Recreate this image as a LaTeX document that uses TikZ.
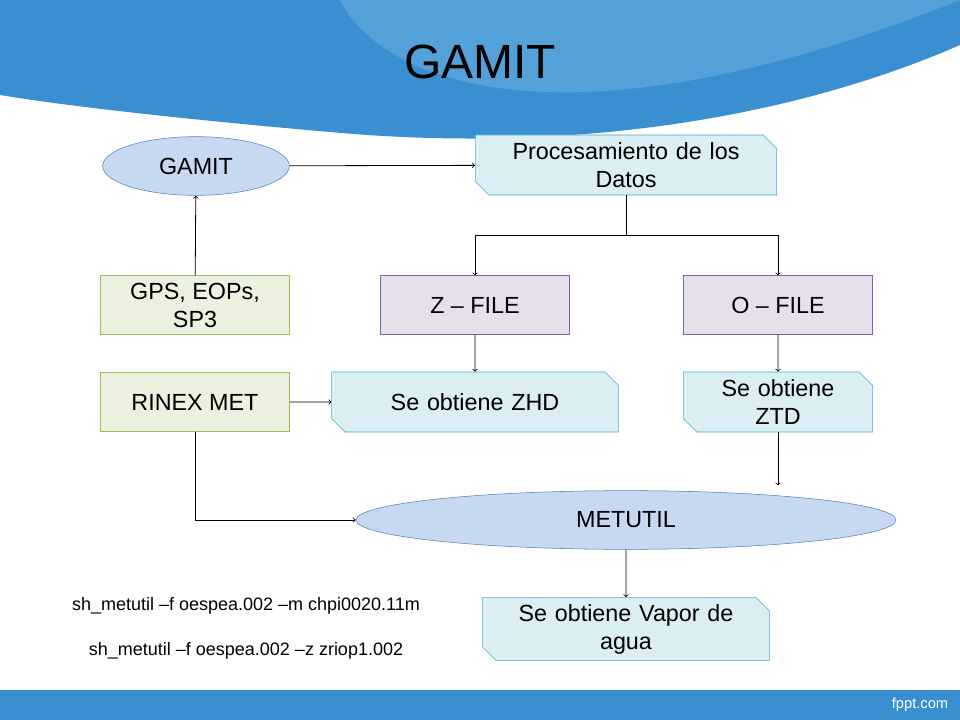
\documentclass[tikz,border=0pt]{standalone}
\usepackage{fontspec}
\setmainfont{Liberation Sans}
\usetikzlibrary{shapes.geometric, shapes.misc, arrows, positioning, calc}
\definecolor{slideblue}{HTML}{3A8FD0}
\definecolor{lightwave}{HTML}{6FB3E3}
\definecolor{ellfill}{HTML}{C6D9F1}
\definecolor{elldraw}{HTML}{4F81BD}
\definecolor{grnfill}{HTML}{EBF1DE}
\definecolor{grndraw}{HTML}{9BBB59}
\definecolor{purfill}{HTML}{E5E0EC}
\definecolor{purdraw}{HTML}{8064A2}
\definecolor{cyfill}{HTML}{DAEEF3}
\definecolor{cydraw}{HTML}{4BACC6}
\tikzstyle{arrow} = [->,>=to, line width=0.6pt]

\begin{document}
\begin{tikzpicture}[x=0.75pt, y=-0.75pt,
    oval/.style={ellipse, draw=elldraw, fill=ellfill, font=\fontsize{17.5}{21}\selectfont},
    plain/.style={rectangle, minimum width=142pt, minimum height=44pt, align=center, font=\fontsize{17.5}{21}\selectfont},
    snip/.style={chamfered rectangle, chamfered rectangle corners={north east,south west}, chamfered rectangle xsep=5pt, chamfered rectangle ysep=5pt, inner sep=0pt, draw=cydraw, fill=cyfill, minimum height=45pt, align=center, font=\fontsize{17.5}{21}\selectfont},
    cmd/.style={font=\fontsize{13.5}{16}\selectfont}]
    \useasboundingbox (0,0) rectangle (960,720);

    % Background
    \fill[white] (0,0) rectangle (960,720);
    \fill[slideblue] (0,0) -- (960,0) -- (960,45) .. controls (800,115) and (580,155) .. (330,132) .. controls (170,118) and (60,105) .. (0,95) -- cycle;
    \fill[lightwave, opacity=0.5] (340,0) .. controls (380,80) and (560,160) .. (960,0) -- cycle;
    \fill[slideblue] (0,690) rectangle (960,720);
    \node[font=\fontsize{36}{40}\selectfont] (title) at (480,62) {GAMIT};
    \node[font=\fontsize{11}{13}\selectfont, white] (fppt) at (920,705) {fppt.com};

    % Nodes
    \node[oval, minimum width=140pt, minimum height=44pt] (gamit) at (196,166) {GAMIT};
    \node[snip, text width=216pt] (proc) at (626,165) {Procesamiento de los\\Datos};
    \node[plain, draw=grndraw, fill=grnfill] (gps) at (195,305) {GPS, EOPs,\\SP3};
    \node[plain, draw=purdraw, fill=purfill] (zfile) at (475,305) {Z -- FILE};
    \node[plain, draw=purdraw, fill=purfill] (ofile) at (778,305) {O -- FILE};
    \node[plain, draw=grndraw, fill=grnfill] (rinex) at (195,402) {RINEX MET};
    \node[snip, text width=205pt] (zhd) at (475,402) {Se obtiene ZHD};
    \node[snip, text width=132pt] (ztd) at (778,402) {Se obtiene\\ZTD};
    \node[oval, minimum width=405pt, minimum height=44pt] (metutil) at (626,520) {METUTIL};
    \node[snip, text width=205pt] (vapor) at (626,629) {Se obtiene Vapor de\\agua};
    \node[cmd] (cmdm) at (246,606) {sh\_metutil --f oespea.002 --m chpi0020.11m};
    \node[cmd] (cmdz) at (246,651) {sh\_metutil --f oespea.002 --z zriop1.002};

    % Arrows
    \coordinate (split) at ($(proc.south)+(0,40)$);
    \draw[arrow] (gamit) -- (proc);
    \draw[arrow] (gps) -- (gamit);
    \draw[line width=0.6pt] (proc.south) -- (split);
    \draw[arrow] (split) -| (zfile.north);
    \draw[arrow] (split) -| (ofile.north);
    \draw[arrow] (zfile) -- (zhd);
    \draw[arrow] (ofile) -- (ztd);
    \draw[arrow] (rinex) -- (zhd);
    \draw[arrow] (rinex.south) |- (metutil.west);
    \draw[arrow] (ztd.south) -- ($(ztd.south |- metutil.north)+(0,-5)$);
    \draw[arrow] (metutil) -- (vapor);
\end{tikzpicture}
\end{document}
